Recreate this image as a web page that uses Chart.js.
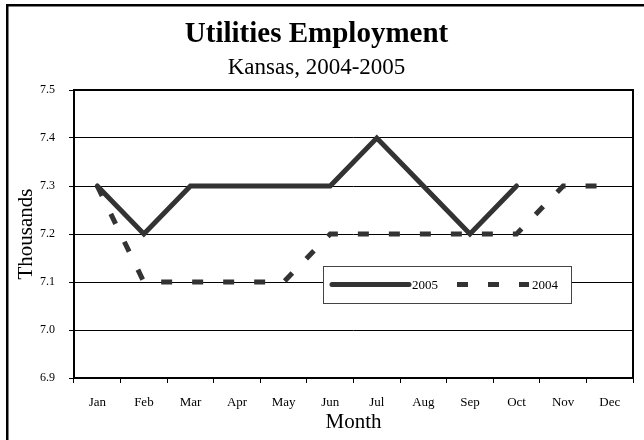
<!DOCTYPE html>
<html>
<head>
<meta charset="utf-8">
<script src="https://cdn.jsdelivr.net/npm/chart.js@4/dist/chart.umd.min.js"></script>
<style>
  body { margin: 0; background: #fff; }
  #box { width: 644px; height: 440px; }
</style>
</head>
<body>
<div id="box"><canvas id="grafico" width="644" height="440"></canvas></div>
<script>
// Dados do gráfico
const meses = ['Jan', 'Feb', 'Mar', 'Apr', 'May', 'Jun', 'Jul', 'Aug', 'Sep', 'Oct', 'Nov', 'Dec'];
const dados2005 = [7.3, 7.2, 7.3, 7.3, 7.3, 7.3, 7.4, 7.3, 7.2, 7.3, null, null];
const dados2004 = [7.3, 7.1, 7.1, 7.1, 7.1, 7.2, 7.2, 7.2, 7.2, 7.2, 7.3, 7.3];
const yTicks = [6.9, 7.0, 7.1, 7.2, 7.3, 7.4, 7.5];

const fonte = "'Liberation Serif', 'Times New Roman', serif";
const corLinha = '#333333';

// Fundo branco e moldura externa
const moldura = {
    id: 'moldura',
    beforeDraw(chart) {
        const ctx = chart.ctx;
        ctx.save();
        ctx.fillStyle = '#fff';
        ctx.fillRect(0, 0, chart.width, chart.height);
        ctx.strokeStyle = '#000';
        ctx.lineWidth = 2.5;
        ctx.strokeRect(7.25, 5.25, chart.width + 20, chart.height + 20);
        ctx.restore();
    },
    afterDraw(chart) {
        // borda da área do gráfico
        const a = chart.chartArea;
        const ctx = chart.ctx;
        ctx.save();
        ctx.strokeStyle = '#000';
        ctx.lineWidth = 2;
        ctx.strokeRect(a.left, a.top, a.right - a.left, a.bottom - a.top);
        ctx.restore();
    }
};

// Legenda dentro da área do gráfico
const legenda = {
    id: 'legenda',
    afterDatasetsDraw(chart) {
        const ctx = chart.ctx;
        const x = 323, y = 266, w = 248, h = 37;
        const meio = y + h / 2;
        ctx.save();
        ctx.fillStyle = '#fff';
        ctx.fillRect(x, y, w, h);
        ctx.strokeStyle = '#444';
        ctx.lineWidth = 1;
        ctx.strokeRect(x + 0.5, y + 0.5, w, h);

        const itens = [
            { ds: chart.data.datasets[0], x1: 332, x2: 409 },
            { ds: chart.data.datasets[1], x1: 457, x2: 529 }
        ];
        itens.forEach(item => {
            ctx.beginPath();
            ctx.strokeStyle = item.ds.borderColor;
            ctx.lineWidth = item.ds.borderWidth;
            ctx.lineCap = item.ds.borderCapStyle;
            ctx.setLineDash(item.ds.borderDash || []);
            ctx.moveTo(item.x1, meio);
            ctx.lineTo(item.x2, meio);
            ctx.stroke();
            ctx.setLineDash([]);
            ctx.fillStyle = '#000';
            ctx.font = '13px ' + fonte;
            ctx.textBaseline = 'middle';
            ctx.textAlign = 'left';
            ctx.fillText(item.ds.label, item.x2 + 3, meio + 1);
        });
        ctx.restore();
    }
};

const ctx = document.getElementById('grafico').getContext('2d');
new Chart(ctx, {
    type: 'line',
    data: {
        labels: meses,
        datasets: [{
            label: '2005',
            data: dados2005,
            borderColor: corLinha,
            borderWidth: 5,
            borderCapStyle: 'round',
            borderJoinStyle: 'miter',
            pointRadius: 0,
            tension: 0,
            fill: false
        }, {
            label: '2004',
            data: dados2004,
            borderColor: corLinha,
            borderWidth: 5,
            borderCapStyle: 'butt',
            borderDash: [11, 20],
            pointRadius: 0,
            tension: 0,
            fill: false
        }]
    },
    options: {
        responsive: false,
        animation: false,
        devicePixelRatio: 1,
        layout: { padding: { top: 0, left: 0, right: 11, bottom: 0 } },
        plugins: {
            legend: { display: false },
            tooltip: { enabled: false },
            title: {
                display: true,
                text: 'Utilities Employment',
                color: '#000',
                font: { family: fonte, size: 29, weight: 'bold', lineHeight: 1.2 },
                padding: { top: 17, bottom: 0 }
            },
            subtitle: {
                display: true,
                text: 'Kansas, 2004-2005',
                color: '#000',
                font: { family: fonte, size: 23, lineHeight: 1.2 },
                padding: { top: 2.4, bottom: 8.2 }
            }
        },
        scales: {
            x: {
                offset: true,
                grid: {
                    offset: true,
                    drawOnChartArea: false,
                    drawTicks: true,
                    tickLength: 5,
                    color: '#000'
                },
                border: { display: false },
                ticks: {
                    color: '#000',
                    font: { family: fonte, size: 13 },
                    padding: 12,
                    maxRotation: 0,
                    autoSkip: false
                },
                title: {
                    display: true,
                    text: 'Month',
                    color: '#000',
                    font: { family: fonte, size: 21, lineHeight: 1.2 },
                    padding: { top: 0, bottom: 5 }
                },
                afterFit(scale) { scale.height = 62; }
            },
            y: {
                min: 6.9,
                max: 7.5,
                afterBuildTicks(scale) {
                    scale.ticks = yTicks.map(v => ({ value: v }));
                },
                grid: {
                    color: '#000',
                    lineWidth: 1,
                    drawTicks: true,
                    tickLength: 5
                },
                border: { display: false },
                ticks: {
                    color: '#000',
                    font: { family: fonte, size: 12 },
                    padding: 14,
                    callback: v => Number(v).toFixed(1)
                },
                title: {
                    display: true,
                    text: 'Thousands',
                    color: '#000',
                    font: { family: fonte, size: 21, lineHeight: 1.2 },
                    padding: { top: 14, bottom: 0 }
                },
                afterFit(scale) { scale.width = 74; }
            }
        }
    },
    plugins: [moldura, legenda]
});
</script>
</body>
</html>
